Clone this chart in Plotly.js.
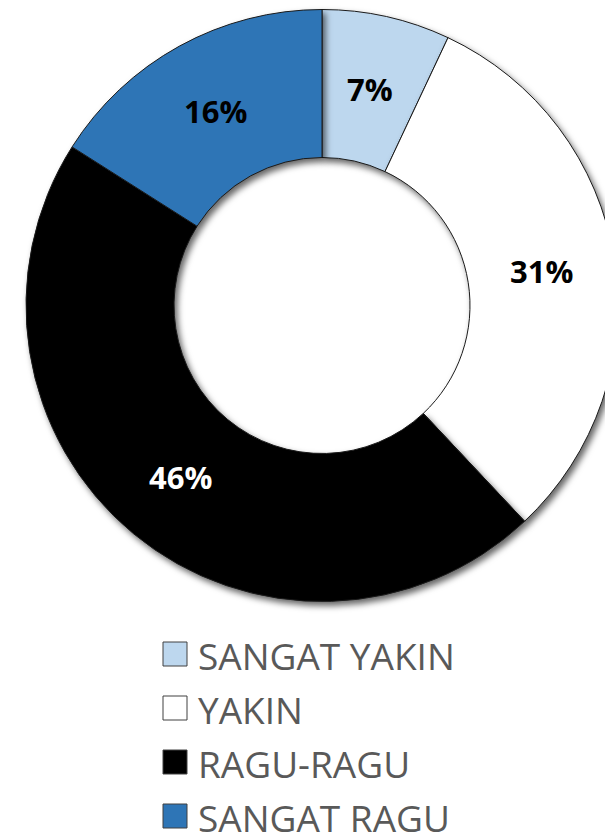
<!DOCTYPE html>
<html>
<head>
<meta charset="utf-8">
<script src="https://cdn.plot.ly/plotly-3.0.1.min.js"></script>
<style>
html, body { margin: 0; padding: 0; overflow: hidden; background: #fff; }
#chart { width: 644px; height: 832px; }
</style>
</head>
<body>
<svg width="0" height="0" style="position:absolute">
  <defs>
    <filter id="sliceShadow" x="-20%" y="-20%" width="150%" height="150%" color-interpolation-filters="sRGB">
      <feDropShadow dx="3" dy="4" stdDeviation="3" flood-color="#000000" flood-opacity="0.6"/>
    </filter>
  </defs>
</svg>
<div id="chart"></div>
<script>
// Data
var categories = ['SANGAT YAKIN', 'YAKIN', 'RAGU-RAGU', 'SANGAT RAGU'];
var values = [7, 31, 46, 16];
var sliceColors = ['#BDD7EE', '#FFFFFF', '#000000', '#2E75B6'];
var labelColors = ['#000000', '#000000', '#FFFFFF', '#000000'];

var W = 644, H = 832;
var cx = 322, cy = 305.5, R = 296, HOLE = 0.5;
function px(x) { return x / W; }
function py(y) { return 1 - y / H; }

var trace = {
  type: 'pie',
  labels: categories,
  values: values,
  sort: false,
  direction: 'clockwise',
  rotation: 0,
  hole: HOLE,
  marker: { colors: sliceColors, line: { color: '#1a1a1a', width: 1 } },
  textinfo: 'none',
  domain: { x: [0, 1], y: [py(cy + R), py(cy - R)] },
  showlegend: false,
  hoverinfo: 'label+percent'
};

var shapes = [], annotations = [];

// Data labels at the middle of each ring segment (derived from values)
var total = values.reduce(function (a, b) { return a + b; }, 0);
var cum = 0, rMid = R * (1 + HOLE) / 2;
values.forEach(function (v, i) {
  var a = (cum + v / 2) / total * 2 * Math.PI;
  cum += v;
  annotations.push({
    xref: 'paper', yref: 'paper',
    x: px(cx + rMid * Math.sin(a)), y: py(cy - rMid * Math.cos(a)),
    xanchor: 'center', yanchor: 'middle', showarrow: false,
    text: v + '%',
    font: { family: 'Open Sans, sans-serif', size: 31, weight: 700, color: labelColors[i] }
  });
});

// Custom legend built from categories and colours
var rowY0 = 654, rowStep = 54, sq = 24, sqX = 163, txtX = 196;
categories.forEach(function (c, i) {
  var yc = rowY0 + i * rowStep;
  shapes.push({
    type: 'rect', xref: 'paper', yref: 'paper',
    x0: px(sqX), x1: px(sqX + sq), y0: py(yc + sq / 2), y1: py(yc - sq / 2),
    fillcolor: sliceColors[i], line: { color: '#404040', width: 1 }
  });
  annotations.push({
    xref: 'paper', yref: 'paper', x: px(txtX), y: py(yc + 1),
    xanchor: 'left', yanchor: 'middle', showarrow: false,
    text: c, font: { family: 'Open Sans, sans-serif', size: 37, color: '#595959' }
  });
});

var layout = {
  width: W, height: H,
  margin: { l: 0, r: 0, t: 0, b: 0 },
  paper_bgcolor: '#ffffff',
  showlegend: false,
  shapes: shapes,
  annotations: annotations
};

function applyShadow(gd) {
  var paths = gd.querySelectorAll('g.slice path');
  for (var k = 0; k < paths.length; k++) {
    paths[k].setAttribute('filter', 'url(#sliceShadow)');
    paths[k].style.filter = 'url(#sliceShadow)';
  }
}

Plotly.newPlot('chart', [trace], layout, { displayModeBar: false, staticPlot: true }).then(function (gd) {
  applyShadow(gd);
  gd.on && gd.on('plotly_afterplot', function () { applyShadow(gd); });
});
</script>
</body>
</html>
